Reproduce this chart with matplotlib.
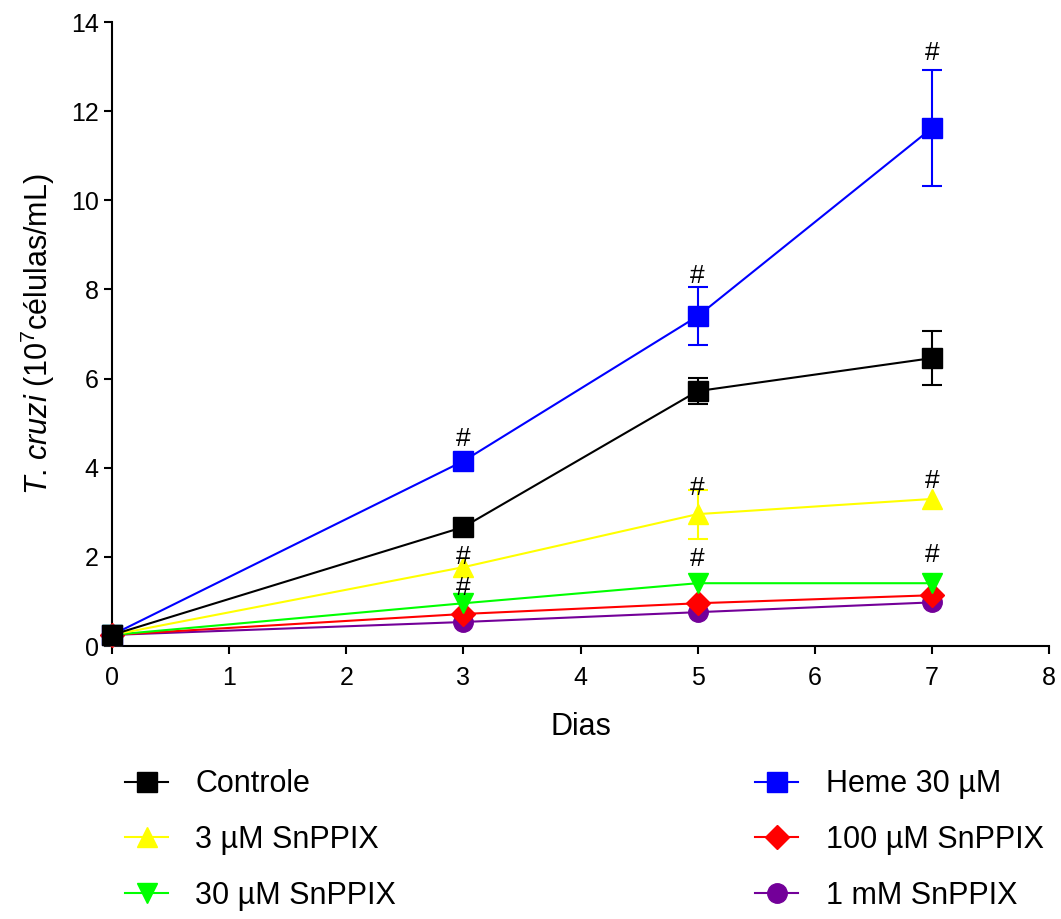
import matplotlib.pyplot as plt
import numpy as np

plt.rcParams['font.family'] = ['Liberation Sans', 'DejaVu Sans']
plt.rcParams['mathtext.fontset'] = 'custom'
plt.rcParams['mathtext.rm'] = 'Liberation Sans'
plt.rcParams['mathtext.it'] = 'Liberation Sans:italic'

dias = [0, 3, 5, 7]

# mean values (10^7 cells/mL) and SD; 0 = no visible error bar
controle = [0.25, 2.67, 5.72, 6.46]
controle_err = [0, 0, 0.30, 0.60]
heme = [0.25, 4.15, 7.40, 11.62]
heme_err = [0, 0, 0.65, 1.30]
snppix_3 = [0.25, 1.77, 2.96, 3.30]
snppix_3_err = [0, 0, 0.55, 0]
snppix_30 = [0.25, 0.96, 1.41, 1.41]
snppix_30_err = [0, 0, 0, 0]
snppix_100 = [0.25, 0.72, 0.96, 1.14]
snppix_100_err = [0, 0, 0, 0]
snppix_1mm = [0.25, 0.54, 0.76, 0.98]
snppix_1mm_err = [0, 0, 0, 0]

# "#" significance marks (day, y)
hash_marks = [(3, 4.65), (3, 2.0), (3, 1.3),
              (5, 8.3), (5, 3.55), (5, 1.95),
              (7, 13.3), (7, 3.7), (7, 2.05)]

series = [
    ('Controle', controle, controle_err, 'black', 's', 15, 7),
    ('3 µM SnPPIX', snppix_3, snppix_3_err, '#ffff00', '^', 15, 5),
    ('30 µM SnPPIX', snppix_30, snppix_30_err, '#00ff00', 'v', 15, 4),
    ('Heme 30 µM', heme, heme_err, '#0000ff', 's', 15, 6),
    ('100 µM SnPPIX', snppix_100, snppix_100_err, '#ff0000', 'D', 12, 3),
    ('1 mM SnPPIX', snppix_1mm, snppix_1mm_err, '#730099', 'o', 14, 2),
]

fig = plt.figure(figsize=(10.61, 9.19), dpi=100)
ax = fig.add_axes([0.1056, 0.297, 0.8831, 0.679])

handles = []
for label, y, err, color, mk, ms, z in series:
    h, = ax.plot(dias, y, color=color, marker=mk, markersize=ms, linewidth=1.5,
                 label=label, zorder=z, clip_on=False)
    handles.append(h)
    idx = [i for i, e in enumerate(err) if e > 0]
    if idx:
        ax.errorbar([dias[i] for i in idx], [y[i] for i in idx],
                    yerr=[err[i] for i in idx], fmt='none', ecolor=color,
                    elinewidth=1.5, capsize=7.5, capthick=1.5, zorder=z)

for xh, yh in hash_marks:
    ax.text(xh, yh, '#', ha='center', va='center', fontsize=19, zorder=10)

ax.set_xlim(0, 8)
ax.set_ylim(0, 14)
ax.set_xticks(range(0, 9))
ax.set_yticks(range(0, 15, 2))
ax.tick_params(direction='out', length=6, width=1.5, labelsize=18)
ax.tick_params(axis='x', pad=8)
for s in ['top', 'right']:
    ax.spines[s].set_visible(False)
for s in ['left', 'bottom']:
    ax.spines[s].set_linewidth(1.5)

ax.set_xlabel('Dias', fontsize=22, labelpad=16)
ax.set_ylabel(r'$\mathit{T}$. $\mathit{cruzi}$ (10$^7$células/mL)', fontsize=22, labelpad=10)

leg_kw = dict(loc='upper left', frameon=False, fontsize=22, labelspacing=0.85,
              handlelength=1.4, handletextpad=0.9, borderpad=0, borderaxespad=0)
fig.legend(handles[:3], [s[0] for s in series[:3]],
           bbox_to_anchor=(0.118, 0.163), **leg_kw)
fig.legend(handles[3:], [s[0] for s in series[3:]],
           bbox_to_anchor=(0.712, 0.163), **leg_kw)

fig.savefig('out.png', dpi=100)
